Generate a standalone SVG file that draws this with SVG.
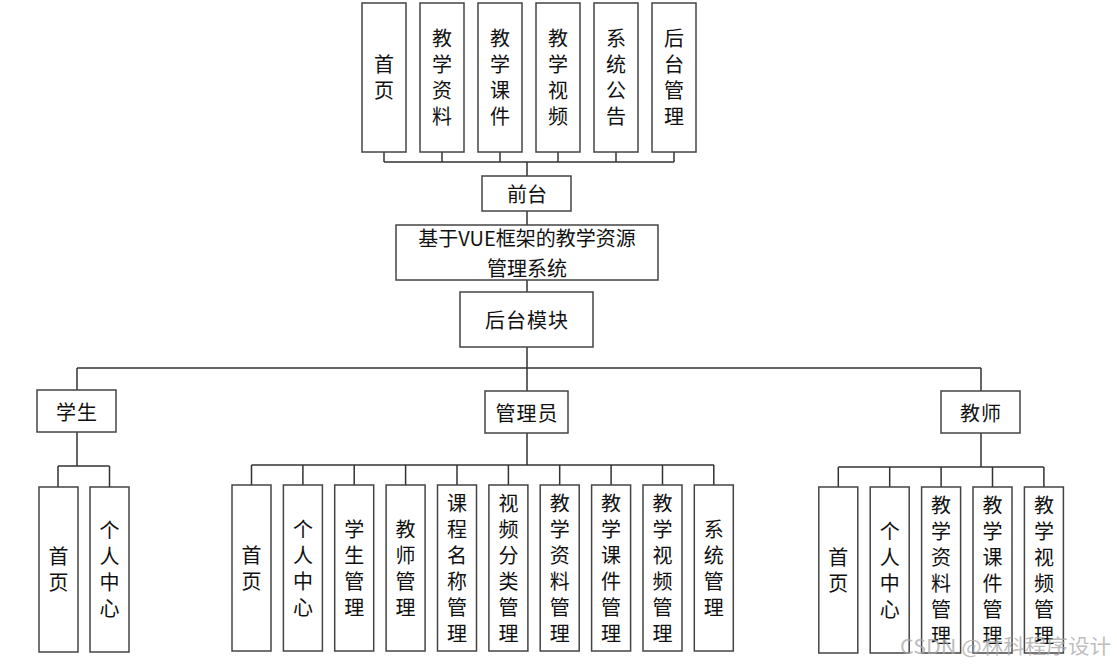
<svg xmlns="http://www.w3.org/2000/svg" width="1117" height="667" viewBox="0 0 1117 667">
<style>
.box{fill:#fff;stroke:#444;stroke-width:1.5}
.t{font-family:"Noto Sans CJK SC","Liberation Sans",sans-serif;font-size:20px;fill:#111;text-anchor:middle;dominant-baseline:central}
.v{font-family:"Noto Sans CJK SC",sans-serif;font-size:20px;fill:#111;text-anchor:middle;writing-mode:vertical-rl;letter-spacing:6px}
.ln{fill:none;stroke:#333;stroke-width:1.5}
.wm{font-family:"Noto Sans CJK SC","Liberation Sans",sans-serif;font-size:20px;fill:#a8a8a8;fill-opacity:0.75}
</style>
<rect width="1117" height="667" fill="#fff"/>
<g id="connectors">
<path class="ln" d="M384 152V162M442 152V162M500 152V162M558 152V162M616 152V162M674 152V162M384 162H674M527 162V176"/>
<path class="ln" d="M527 211V225M527 280V292M527 347V368M77 368H981M77 368V390M527 368V391M981 368V391"/>
<path class="ln" d="M77 432V466M58 466H109.5M58 466V487M109.5 466V487"/>
<path class="ln" d="M527 433V465M251.5 465H714M251.5 465V485M302.9 465V485M354.2 465V485M405.6 465V485M457 465V485M508.4 465V485M559.7 465V485M611.1 465V485M662.5 465V485M713.8 465V485"/>
<path class="ln" d="M981 433V467M838.3 467H1043.9M838.3 467V487M889.7 467V487M941.1 467V487M992.5 467V487M1043.9 467V487"/>
</g>
<g id="n-home"><rect class="box" x="362" y="3" width="44" height="149"/><text class="v" x="384" y="80.5">首页</text></g>
<g id="n-material"><rect class="box" x="420" y="3" width="44" height="149"/><text class="v" x="442" y="80.5">教学资料</text></g>
<g id="n-courseware"><rect class="box" x="478" y="3" width="44" height="149"/><text class="v" x="500" y="80.5">教学课件</text></g>
<g id="n-video"><rect class="box" x="536" y="3" width="44" height="149"/><text class="v" x="558" y="80.5">教学视频</text></g>
<g id="n-notice"><rect class="box" x="594" y="3" width="44" height="149"/><text class="v" x="616" y="80.5">系统公告</text></g>
<g id="n-backend"><rect class="box" x="652" y="3" width="44" height="149"/><text class="v" x="674" y="80.5">后台管理</text></g>
<g id="n-front"><rect class="box" x="482" y="176" width="89" height="35"/><text class="t" x="527" y="193.5">前台</text></g>
<g id="n-system"><rect class="box" x="396" y="225" width="262" height="55"/><text class="t" x="527" y="237.5">基于VUE框架的教学资源</text><text class="t" x="527" y="267">管理系统</text></g>
<g id="n-backmod"><rect class="box" x="460" y="292" width="133" height="55"/><text class="t" x="527" y="319.5" letter-spacing="1">后台模块</text></g>
<g id="n-student"><rect class="box" x="37" y="390" width="79" height="42"/><text class="t" x="77" y="411" letter-spacing="1">学生</text></g>
<g id="n-admin"><rect class="box" x="485" y="391" width="83" height="42"/><text class="t" x="527" y="412" letter-spacing="1">管理员</text></g>
<g id="n-teacher"><rect class="box" x="941" y="391" width="79" height="42"/><text class="t" x="981" y="412" letter-spacing="1">教师</text></g>
<g id="n-s-home"><rect class="box" x="39" y="487" width="39" height="165"/><text class="v" x="58.5" y="572.5">首页</text></g>
<g id="n-s-center"><rect class="box" x="90" y="487" width="39" height="165"/><text class="v" x="109.5" y="572.5">个人中心</text></g>
<g id="n-a-home"><rect class="box" x="232" y="485" width="39" height="166"/><text class="v" x="251.5" y="571">首页</text></g>
<g id="n-a-center"><rect class="box" x="283.4" y="485" width="39" height="166"/><text class="v" x="302.9" y="571">个人中心</text></g>
<g id="n-a-student"><rect class="box" x="334.7" y="485" width="39" height="166"/><text class="v" x="354.2" y="571">学生管理</text></g>
<g id="n-a-teacher"><rect class="box" x="386.1" y="485" width="39" height="166"/><text class="v" x="405.6" y="571">教师管理</text></g>
<g id="n-a-course"><rect class="box" x="437.5" y="485" width="39" height="166"/><text class="v" x="457" y="571">课程名称管理</text></g>
<g id="n-a-vcat"><rect class="box" x="488.9" y="485" width="39" height="166"/><text class="v" x="508.4" y="571">视频分类管理</text></g>
<g id="n-a-material"><rect class="box" x="540.2" y="485" width="39" height="166"/><text class="v" x="559.7" y="571">教学资料管理</text></g>
<g id="n-a-courseware"><rect class="box" x="591.6" y="485" width="39" height="166"/><text class="v" x="611.1" y="571">教学课件管理</text></g>
<g id="n-a-video"><rect class="box" x="643" y="485" width="39" height="166"/><text class="v" x="662.5" y="571">教学视频管理</text></g>
<g id="n-a-system"><rect class="box" x="694.3" y="485" width="39" height="166"/><text class="v" x="713.8" y="571">系统管理</text></g>
<g id="n-t-home"><rect class="box" x="818.8" y="487" width="39" height="166"/><text class="v" x="838.3" y="573">首页</text></g>
<g id="n-t-center"><rect class="box" x="870.2" y="487" width="39" height="166"/><text class="v" x="889.7" y="573">个人中心</text></g>
<g id="n-t-material"><rect class="box" x="921.6" y="487" width="39" height="166"/><text class="v" x="941.1" y="573">教学资料管理</text></g>
<g id="n-t-courseware"><rect class="box" x="973" y="487" width="39" height="166"/><text class="v" x="992.5" y="573">教学课件管理</text></g>
<g id="n-t-video"><rect class="box" x="1024.4" y="487" width="39" height="166"/><text class="v" x="1043.9" y="573">教学视频管理</text></g>
<text class="wm" x="900" y="654" textLength="211" lengthAdjust="spacingAndGlyphs">CSDN @林科程序设计</text>
</svg>
